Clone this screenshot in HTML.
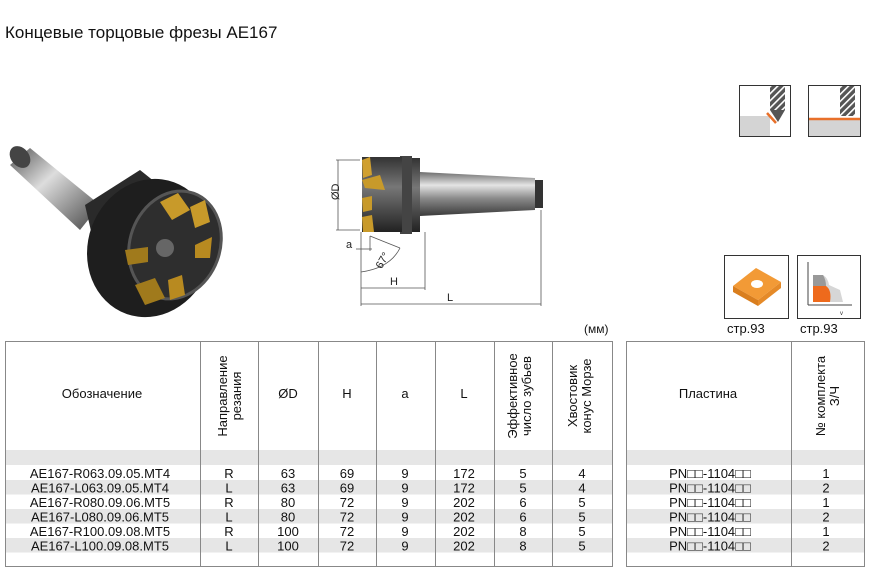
<!DOCTYPE html>
<html><head><meta charset="utf-8">
<style>
html,body{margin:0;padding:0;background:#fff;}
svg{display:block;font-family:"Liberation Sans","DejaVu Sans",sans-serif;}
</style></head><body>
<svg width="869" height="575" viewBox="0 0 869 575" xmlns="http://www.w3.org/2000/svg">
<defs>
<linearGradient id="shank" x1="0" y1="0" x2="0" y2="1">
<stop offset="0" stop-color="#6d6d6d"/><stop offset="0.3" stop-color="#e4e4e4"/><stop offset="0.6" stop-color="#8a8a8a"/><stop offset="1" stop-color="#3a3a3a"/></linearGradient>
<linearGradient id="body" x1="0" y1="0" x2="0" y2="1">
<stop offset="0" stop-color="#333"/><stop offset="0.4" stop-color="#777"/><stop offset="1" stop-color="#222"/></linearGradient>
<linearGradient id="pshank" x1="0" y1="0" x2="1" y2="1">
<stop offset="0" stop-color="#555"/><stop offset="0.4" stop-color="#ddd"/><stop offset="1" stop-color="#444"/></linearGradient>
<pattern id="hatch" width="5" height="5" patternUnits="userSpaceOnUse" patternTransform="rotate(-45)">
<rect width="5" height="5" fill="#555"/><rect width="5" height="1.6" fill="#fff"/></pattern>
</defs>
<text x="5" y="38" font-size="17" fill="#111">Концевые торцовые фрезы AE167</text>

<!-- photo -->
<g>
<polygon points="10,165 30,148 100,205 80,230" fill="url(#pshank)"/>
<ellipse cx="20" cy="157" rx="9" ry="12" transform="rotate(-40 20 157)" fill="#444"/>
<polygon points="85,205 140,170 190,210 150,290 100,270" fill="#2a2a2a"/>
<ellipse cx="150" cy="248" rx="62" ry="70" transform="rotate(20 150 248)" fill="#1e1e1e"/>
<ellipse cx="175" cy="245" rx="45" ry="55" transform="rotate(20 175 245)" fill="#2e2e2e" stroke="#555" stroke-width="3"/>
<circle cx="165" cy="248" r="9" fill="#666"/>
<polygon points="160,202 178,193 190,210 172,220" fill="#c89a2a"/>
<polygon points="190,207 205,200 210,222 195,228" fill="#c89a2a"/>
<polygon points="195,245 212,237 210,258 195,258" fill="#b88a20"/>
<polygon points="125,250 148,247 148,262 128,265" fill="#a07a1c"/>
<polygon points="135,285 155,278 165,298 145,305" fill="#a07a1c"/>
<polygon points="168,280 182,275 185,295 170,300" fill="#b88a20"/>
</g>

<!-- technical drawing -->
<g>
<polygon points="420,172 535,178 535,210 420,216" fill="url(#shank)"/>
<rect x="535" y="180" width="8" height="28" fill="#333"/>
<rect x="395" y="158" width="25" height="74" fill="url(#body)"/>
<rect x="400" y="156" width="12" height="78" fill="#444"/>
<rect x="362" y="157" width="40" height="75" fill="url(#body)"/>
<polygon points="362,160 370,157 372,175 363,178" fill="#d0a030"/>
<polygon points="362,180 380,175 385,190 365,188" fill="#c89a2a"/>
<polygon points="362,198 372,196 372,210 363,212" fill="#c89a2a"/>
<polygon points="362,217 372,215 374,232 363,232" fill="#c89a2a"/>
<g stroke="#555" stroke-width="0.8" fill="none">
<line x1="336" y1="160" x2="360" y2="160"/><line x1="336" y1="230" x2="360" y2="230"/>
<line x1="338" y1="160" x2="338" y2="230"/>
<line x1="361" y1="232" x2="361" y2="306"/>
<line x1="425" y1="232" x2="425" y2="290"/>
<line x1="541" y1="210" x2="541" y2="306"/>
<line x1="361" y1="288" x2="425" y2="288"/>
<line x1="361" y1="304" x2="541" y2="304"/>
<line x1="356" y1="249" x2="372" y2="249"/>
<line x1="370" y1="236" x2="370" y2="251"/>
<line x1="370" y1="236" x2="400" y2="248"/>
<path d="M361,272 Q390,268 400,248"/>
</g>
<text x="334" y="205" font-size="11" fill="#222" transform="rotate(-90 334 200)">ØD</text>
<text x="346" y="248" font-size="11" fill="#222">a</text>
<text x="376" y="268" font-size="11" fill="#222" transform="rotate(-60 380 264)">67°</text>
<text x="390" y="285" font-size="11" fill="#222">H</text>
<text x="447" y="301" font-size="11" fill="#222">L</text>
</g>

<!-- top-right icons -->
<rect x="739.5" y="85.5" width="51" height="51" fill="#fff" stroke="#333"/>
<rect x="740" y="116" width="30" height="20" fill="#d4d4d4"/>
<rect x="770" y="86" width="15" height="24" fill="url(#hatch)"/>
<polygon points="770,110 785,110 778,122" fill="#555"/>
<line x1="767" y1="113" x2="776" y2="123" stroke="#e8702a" stroke-width="2.5"/>
<rect x="808.5" y="85.5" width="52" height="51" fill="#fff" stroke="#333"/>
<rect x="809" y="119" width="51" height="17" fill="#d4d4d4"/>
<rect x="840" y="86" width="15" height="30" fill="url(#hatch)"/>
<line x1="809" y1="119" x2="860" y2="119" stroke="#e8702a" stroke-width="2.5"/>

<!-- insert icons -->
<rect x="724.5" y="255.5" width="64" height="63" fill="#fff" stroke="#333"/>
<polygon points="733,286 756,268 781,282 758,300" fill="#f29a36"/>
<polygon points="733,286 758,300 758,306 733,292" fill="#d97e1e"/>
<polygon points="758,300 781,282 781,288 758,306" fill="#e58a28"/>
<ellipse cx="757" cy="284" rx="6" ry="4" fill="#fff"/>
<rect x="797.5" y="255.5" width="63" height="63" fill="#fff" stroke="#333"/>
<line x1="808" y1="305" x2="852" y2="305" stroke="#444"/>
<line x1="808" y1="305" x2="808" y2="262" stroke="#444"/>
<path d="M813,275 L823,275 Q828,278 829,285 L840,290 L843,302 L813,302Z" fill="#d6d6d6"/>
<path d="M813,275 L823,275 Q826,280 826,286 L813,286Z" fill="#999"/>
<path d="M813,286 L826,286 Q832,290 830,302 L813,302Z" fill="#ee6a1c"/>
<text x="840" y="315" font-size="6" fill="#333">v</text>
<text x="727" y="333" font-size="13" fill="#111">стр.93</text>
<text x="800" y="333" font-size="13" fill="#111">стр.93</text>
<text x="584" y="333" font-size="12" fill="#111">(мм)</text>

<!-- tables -->
<g>
<rect x="5" y="450" width="607" height="15" fill="#e6e6e6"/>
<rect x="5" y="480" width="607" height="14.5" fill="#e6e6e6"/>
<rect x="5" y="509" width="607" height="14.5" fill="#e6e6e6"/>
<rect x="5" y="538" width="607" height="14.5" fill="#e6e6e6"/>
<rect x="626" y="450" width="238" height="15" fill="#e6e6e6"/>
<rect x="626" y="480" width="238" height="14.5" fill="#e6e6e6"/>
<rect x="626" y="509" width="238" height="14.5" fill="#e6e6e6"/>
<rect x="626" y="538" width="238" height="14.5" fill="#e6e6e6"/>
<g stroke="#888" stroke-width="1">
<line x1="5" y1="341.5" x2="612" y2="341.5"/><line x1="5" y1="566.5" x2="612" y2="566.5"/>
<line x1="626" y1="341.5" x2="864" y2="341.5"/><line x1="626" y1="566.5" x2="864" y2="566.5"/>
<line x1="5.5" y1="341" x2="5.5" y2="567"/>
<line x1="200.5" y1="341" x2="200.5" y2="567"/>
<line x1="258.5" y1="341" x2="258.5" y2="567"/>
<line x1="318.5" y1="341" x2="318.5" y2="567"/>
<line x1="376.5" y1="341" x2="376.5" y2="567"/>
<line x1="435.5" y1="341" x2="435.5" y2="567"/>
<line x1="494.5" y1="341" x2="494.5" y2="567"/>
<line x1="552.5" y1="341" x2="552.5" y2="567"/>
<line x1="612.5" y1="341" x2="612.5" y2="567"/>
<line x1="626.5" y1="341" x2="626.5" y2="567"/>
<line x1="791.5" y1="341" x2="791.5" y2="567"/>
<line x1="864.5" y1="341" x2="864.5" y2="567"/>
</g>
<g font-size="13" fill="#111" text-anchor="middle">
<text x="102" y="398">Обозначение</text>
<text x="288" y="398">ØD</text>
<text x="347" y="398">H</text>
<text x="405" y="398">a</text>
<text x="464" y="398">L</text>
<text x="708" y="398">Пластина</text>
</g>
<g font-size="13" fill="#111" text-anchor="middle">
<text transform="translate(227 396) rotate(-90)">Направление</text>
<text transform="translate(241 396) rotate(-90)">резания</text>
<text transform="translate(517 396) rotate(-90)">Эффективное</text>
<text transform="translate(531 396) rotate(-90)">число зубьев</text>
<text transform="translate(577 396) rotate(-90)">Хвостовик</text>
<text transform="translate(591 396) rotate(-90)">конус Морзе</text>
<text transform="translate(825 396) rotate(-90)">№ комплекта</text>
<text transform="translate(839 396) rotate(-90)">З/Ч</text>
</g>
<g font-size="13" fill="#111" text-anchor="middle">
<text x="100" y="478">AE167-R063.09.05.MT4</text>
<text x="100" y="492.5">AE167-L063.09.05.MT4</text>
<text x="100" y="507">AE167-R080.09.06.MT5</text>
<text x="100" y="521.5">AE167-L080.09.06.MT5</text>
<text x="100" y="536">AE167-R100.09.08.MT5</text>
<text x="100" y="550.5">AE167-L100.09.08.MT5</text>
<text x="229" y="478">R</text><text x="229" y="492.5">L</text><text x="229" y="507">R</text><text x="229" y="521.5">L</text><text x="229" y="536">R</text><text x="229" y="550.5">L</text>
<text x="288" y="478">63</text><text x="288" y="492.5">63</text><text x="288" y="507">80</text><text x="288" y="521.5">80</text><text x="288" y="536">100</text><text x="288" y="550.5">100</text>
<text x="347" y="478">69</text><text x="347" y="492.5">69</text><text x="347" y="507">72</text><text x="347" y="521.5">72</text><text x="347" y="536">72</text><text x="347" y="550.5">72</text>
<text x="405" y="478">9</text><text x="405" y="492.5">9</text><text x="405" y="507">9</text><text x="405" y="521.5">9</text><text x="405" y="536">9</text><text x="405" y="550.5">9</text>
<text x="464" y="478">172</text><text x="464" y="492.5">172</text><text x="464" y="507">202</text><text x="464" y="521.5">202</text><text x="464" y="536">202</text><text x="464" y="550.5">202</text>
<text x="523" y="478">5</text><text x="523" y="492.5">5</text><text x="523" y="507">6</text><text x="523" y="521.5">6</text><text x="523" y="536">8</text><text x="523" y="550.5">8</text>
<text x="582" y="478">4</text><text x="582" y="492.5">4</text><text x="582" y="507">5</text><text x="582" y="521.5">5</text><text x="582" y="536">5</text><text x="582" y="550.5">5</text>
<text x="710" y="478">PN□□-1104□□</text><text x="710" y="492.5">PN□□-1104□□</text><text x="710" y="507">PN□□-1104□□</text><text x="710" y="521.5">PN□□-1104□□</text><text x="710" y="536">PN□□-1104□□</text><text x="710" y="550.5">PN□□-1104□□</text>
<text x="826" y="478">1</text><text x="826" y="492.5">2</text><text x="826" y="507">1</text><text x="826" y="521.5">2</text><text x="826" y="536">1</text><text x="826" y="550.5">2</text>
</g>
</g>
</svg>
</body></html>
